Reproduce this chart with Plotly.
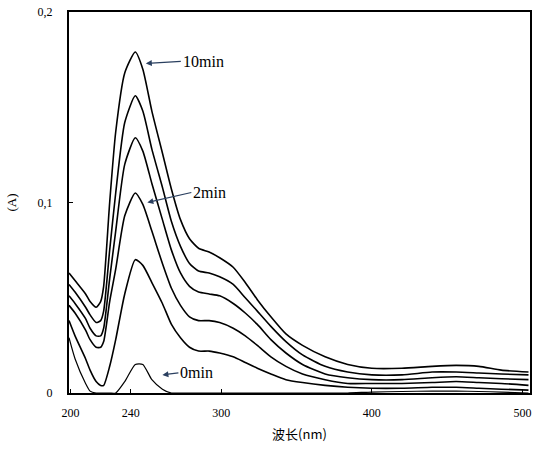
import plotly.graph_objects as go

wavelength = [199, 203, 210, 213, 217, 220, 222, 226, 230, 236, 243, 248, 254, 261, 267, 273, 279, 285,
              292, 299, 308, 316, 324, 333, 343, 354, 369, 384, 400, 420, 440, 456, 471, 486, 504]

abs_10min = [0.063, 0.059, 0.052, 0.048, 0.045, 0.048, 0.056, 0.100, 0.137, 0.168, 0.179, 0.170, 0.148, 0.126,
             0.107, 0.091, 0.081, 0.076, 0.074, 0.071, 0.066, 0.058, 0.049, 0.040, 0.031, 0.025,
             0.019, 0.015, 0.013, 0.013, 0.014, 0.0145, 0.014, 0.012, 0.011]
abs_c2 = [0.057, 0.053, 0.045, 0.041, 0.037, 0.038, 0.043, 0.075, 0.105, 0.142, 0.156, 0.148, 0.128, 0.108,
          0.090, 0.077, 0.068, 0.064, 0.063, 0.061, 0.057, 0.050, 0.043, 0.035, 0.027, 0.020,
          0.014, 0.011, 0.0095, 0.0095, 0.011, 0.011, 0.0105, 0.010, 0.0095]
abs_c3 = [0.051, 0.047, 0.039, 0.034, 0.030, 0.030, 0.034, 0.060, 0.085, 0.120, 0.134, 0.127, 0.110, 0.091,
          0.075, 0.063, 0.056, 0.053, 0.052, 0.051, 0.047, 0.042, 0.036, 0.028, 0.021, 0.015,
          0.010, 0.008, 0.007, 0.007, 0.008, 0.0085, 0.008, 0.0075, 0.007]
abs_2min = [0.046, 0.042, 0.033, 0.028, 0.024, 0.024, 0.027, 0.048, 0.065, 0.093, 0.105, 0.099, 0.085, 0.068,
            0.055, 0.046, 0.040, 0.038, 0.038, 0.037, 0.034, 0.030, 0.025, 0.019, 0.014, 0.010,
            0.007, 0.005, 0.005, 0.005, 0.0055, 0.006, 0.0055, 0.005, 0.004]
abs_c5 = [0.038, 0.030, 0.018, 0.012, 0.006, 0.004, 0.004, 0.014, 0.028, 0.052, 0.070, 0.067, 0.058, 0.047,
          0.036, 0.029, 0.024, 0.022, 0.022, 0.021, 0.019, 0.016, 0.013, 0.010, 0.007, 0.0055,
          0.004, 0.003, 0.0025, 0.0025, 0.003, 0.003, 0.0025, 0.002, 0.0015]
abs_0min = [0.029, 0.018, 0.005, 0.001, 0.0, 0.0, 0.0, 0.0, 0.0, 0.006, 0.015, 0.015, 0.007, 0.002,
            0.0, 0.0, 0.0, 0.0, 0.0, 0.0, 0.0, 0.0, 0.0, 0.0, 0.0, 0.0,
            0.0, 0.0, 0.0005, 0.0008, 0.001, 0.001, 0.0008, 0.0005, 0.0]

series = [abs_10min, abs_c2, abs_c3, abs_2min, abs_c5, abs_0min]

x_tickvals = [200, 240, 300, 400, 500]
x_ticktext = ["200", "240", "300", "400", "500"]
y_tickvals = [0, 0.1, 0.2]
y_ticktext = ["0", "0,1", "0,2"]

fig = go.Figure()
for i, ys in enumerate(series):
    fig.add_trace(go.Scatter(
        x=wavelength, y=ys, mode="lines",
        line=dict(color="black", width=1.2 if i == 5 else 1.6, shape="spline", smoothing=0.6),
        showlegend=False, hoverinfo="skip", cliponaxis=True))

serif = "Liberation Serif, Times New Roman, serif"
ann_font = dict(family=serif, size=16, color="black")
fig.add_annotation(x=250, y=0.173, ax=35, ay=-2, text="10min", showarrow=True,
                   xanchor="left", arrowhead=2, arrowsize=1, arrowwidth=1.2, font=ann_font)
fig.add_annotation(x=251, y=0.100, ax=44, ay=-10, text="2min", showarrow=True,
                   xanchor="left", arrowhead=2, arrowsize=1, arrowwidth=1.2, font=ann_font)
fig.add_annotation(x=261, y=0.0095, ax=16, ay=-2, text="0min", showarrow=True,
                   xanchor="left", arrowhead=2, arrowsize=1, arrowwidth=1.2, font=ann_font)

fig.update_layout(
    width=533, height=470,
    margin=dict(l=69, r=3, t=12, b=77),
    paper_bgcolor="white", plot_bgcolor="white",
    font=dict(family=serif, size=12, color="black"),
    xaxis=dict(range=[199, 505], tickvals=x_tickvals, ticktext=x_ticktext, automargin=False,
               showgrid=False, zeroline=False, showline=True, linecolor="black", linewidth=2,
               mirror=True, ticks="inside", ticklen=4, tickcolor="black", ticklabelstandoff=8,
               title=dict(text="波长(nm)", standoff=10,
                          font=dict(family="Noto Sans CJK SC", size=13))),
    yaxis=dict(range=[0, 0.2], tickvals=y_tickvals, ticktext=y_ticktext, automargin=False,
               showgrid=False, zeroline=False, showline=True, linecolor="black", linewidth=2,
               mirror=True, ticks="inside", ticklen=4, tickcolor="black", ticklabelstandoff=12,
               title=dict(text="(A)", standoff=18, font=dict(family=serif, size=13))),
)

fig.write_html("out.html", config={"displayModeBar": False},
               post_script="document.body.style.margin='0';document.body.style.overflow='hidden';")
